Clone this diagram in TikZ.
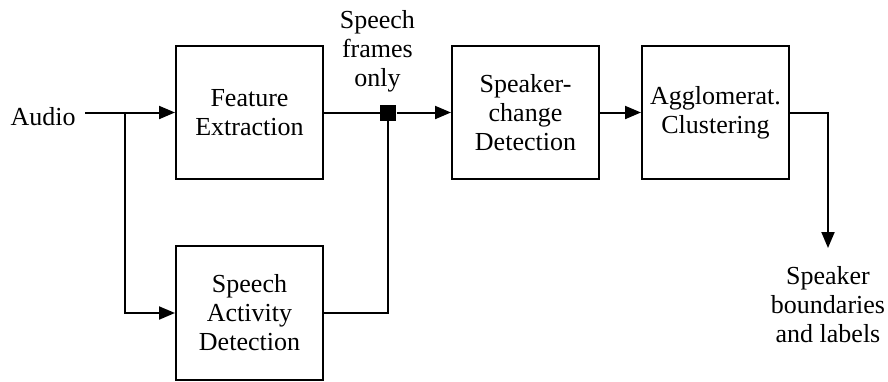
\documentclass[tikz,border=0pt]{standalone}
\usepackage{fontspec}
\setmainfont{Liberation Serif}
\usetikzlibrary{arrows.meta}

\begin{document}
\begin{tikzpicture}[>={Triangle[length=8pt,width=6.5pt]}]

\tikzstyle{blocknode} = [minimum width=73.5pt,minimum height=66.5pt,draw,line width=1pt,align=center,inner sep=1pt,font=\fontsize{13}{14.5}\selectfont];
\tikzstyle{textnode} = [align=center,font=\fontsize{13}{14.5}\selectfont];
\tikzstyle{wire} = [line width=1pt];

\useasboundingbox (0,0) rectangle (444pt,-190.5pt);

\node [blocknode,anchor=north west] (b1) at (87.5pt,-22.5pt) {Feature\\Extraction};
\node [blocknode,anchor=north,minimum height=67pt] (b2) at ([yshift=-32.5pt]b1.south) {Speech\\Activity\\Detection};
\node [fill=black,minimum size=8pt,inner sep=0pt,anchor=west] (j1) at ([xshift=28pt]b1.east) {};
\node [blocknode,anchor=west] (b3) at ([xshift=63.5pt]b1.east) {Speaker-\\change\\Detection};
\node [blocknode,anchor=west] (b4) at ([xshift=20.5pt]b3.east) {Agglomerat.\\Clustering};

\node [textnode,anchor=base east,inner sep=4.5pt] (a) at ([xshift=-45pt,yshift=-6.5pt]b1.west) {Audio};
\coordinate (br) at ([xshift=-25pt]b1.west);
\node [textnode,anchor=south] (f) at ([xshift=-5.5pt,yshift=2.5pt]j1.north) {Speech\\frames\\only};
\node [textnode,anchor=north,outer ysep=6pt] (o) at (414pt,-124pt) {Speaker\\boundaries\\and labels};

\draw [wire,->] (a.east |- b1.west) -- (b1.west);
\draw [wire,->] (br) |- (b2.west);
\draw [wire] (b1.east) -- (j1.west);
\draw [wire] (b2.east) -| (j1.south);
\draw [wire,->] (j1.east) -- (b3.west);
\draw [wire,->] (b3.east) -- (b4.west);
\draw [wire,->] (b4.east) -| (o.north);

\end{tikzpicture}
\end{document}
